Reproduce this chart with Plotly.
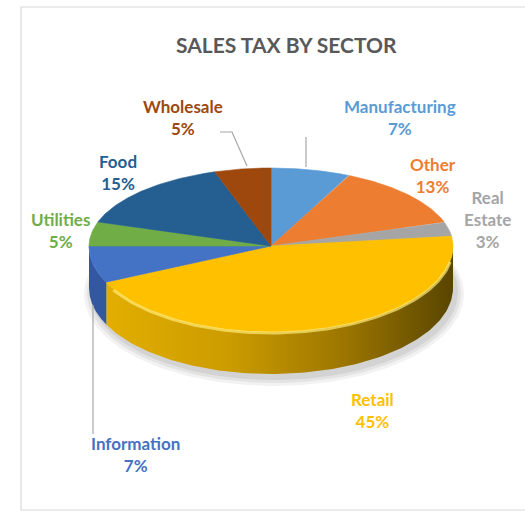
import numpy as np
import plotly.graph_objects as go

# Sales tax share by sector, clockwise from 12 o'clock
sectors = ["Manufacturing", "Other", "Real Estate", "Retail",
           "Information", "Utilities", "Food", "Wholesale"]
shares = [7, 13, 3, 45, 7, 5, 15, 5]
top_colors = ["#5B9BD5", "#ED7D31", "#A5A5A5", "#FFC000",
              "#4472C4", "#70AD47", "#255E91", "#9E480E"]
side_colors = ["#41729F", "#B55E22", "#7C7C7C", "#C89600",
               "#3358A0", "#558536", "#1B466D", "#76360A"]
label_colors = ["#5B9BD5", "#ED7D31", "#A5A5A5", "#FFC000",
                "#4472C4", "#70AD47", "#255E91", "#9E480E"]
label_text = ["Manufacturing<br>7%", "Other<br>13%", "Real<br>Estate<br>3%",
              "Retail<br>45%", "Information<br>7%", "Utilities<br>5%",
              "Food<br>15%", "Wholesale<br>5%"]

# Canvas geometry in pixels (y grows downward)
W, H = 525, 511
CX, CY = 271, 246
RX, RY_BACK, RY_FRONT = 182, 78, 86
DEPTH = 42

# Label anchor points (pixels)
label_pos = {
    "Manufacturing": (400, 117), "Other": (433, 175), "Real Estate": (487, 219),
    "Retail": (372, 410), "Information": (135, 454), "Utilities": (60, 230),
    "Food": (118, 172), "Wholesale": (183, 117),
}
# Leader lines (pixels)
leaders = [
    [(306, 137), (306, 167)],
    [(220, 132), (232, 132), (247, 166)],
    [(93, 305), (93, 434)],
]


def rim(theta_deg):
    t = np.radians(theta_deg)
    ry = np.where(np.cos(t) >= 0, RY_BACK, RY_FRONT)
    return CX + RX * np.sin(t), CY - ry * np.cos(t)


fig = go.Figure()

# soft floor shadow
for k, a in enumerate([0.05, 0.06, 0.07]):
    t = np.linspace(0, 360, 200)
    sx = 274 + (RX + 8 - 3 * k) * np.sin(np.radians(t))
    sy = CY + DEPTH + 6 - k - (RY_FRONT + 6 - 2 * k) * np.cos(np.radians(t))
    fig.add_trace(go.Scatter(x=sx, y=sy, fill="toself", mode="lines",
                             line=dict(width=0), fillcolor=f"rgba(0,0,0,{a})",
                             hoverinfo="skip", showlegend=False))

cum = np.concatenate([[0], np.cumsum(shares)]) / sum(shares) * 360.0

# side walls for the part of the rim facing the viewer (90..270 deg)
for i, name in enumerate(sectors):
    a0, a1 = max(cum[i], 90), min(cum[i + 1], 270)
    if a1 <= a0:
        continue
    t = np.linspace(a0, a1, 120)
    x, y = rim(t)
    px = np.concatenate([x, x[::-1]])
    py = np.concatenate([y, y[::-1] + DEPTH])
    kw = {}
    if name == "Retail":
        kw["fillgradient"] = dict(type="horizontal",
                                  colorscale=[[0, "#E2AE00"], [0.35, "#CC9C00"],
                                              [0.7, "#9A7400"], [1, "#584500"]])
    fig.add_trace(go.Scatter(x=px, y=py, fill="toself", mode="lines",
                             line=dict(width=0), fillcolor=side_colors[i],
                             hoverinfo="skip", showlegend=False, **kw))

# top faces
for i, name in enumerate(sectors):
    t = np.linspace(cum[i], cum[i + 1], 150)
    x, y = rim(t)
    px = np.concatenate([[CX], x, [CX]])
    py = np.concatenate([[CY], y, [CY]])
    fig.add_trace(go.Scatter(x=px, y=py, fill="toself", mode="lines",
                             line=dict(width=0.6, color=top_colors[i]),
                             fillcolor=top_colors[i], name=name,
                             hoverinfo="name", showlegend=False))

# bevel highlight along the front rim of the largest slice
t = np.linspace(max(cum[3], 100), min(cum[4], 240), 100)
hx, hy = rim(t)
fig.add_trace(go.Scatter(x=hx, y=hy + 1, mode="lines",
                         line=dict(width=3, color="rgba(255,235,120,0.7)"),
                         hoverinfo="skip", showlegend=False))

# leader lines
for pts in leaders:
    fig.add_trace(go.Scatter(x=[p[0] for p in pts], y=[p[1] for p in pts],
                             mode="lines", line=dict(width=1.2, color="#A6A6A6"),
                             hoverinfo="skip", showlegend=False))

annotations = []
for i, name in enumerate(sectors):
    lx, ly = label_pos[name]
    annotations.append(dict(x=lx, y=ly, xref="x", yref="y", text=f"<b>{label_text[i]}</b>",
                            showarrow=False, align="center",
                            font=dict(family="Lato", size=17, color=label_colors[i])))
annotations.append(dict(x=286, y=44, xref="x", yref="y", text="<b>SALES TAX BY SECTOR</b>",
                        showarrow=False,
                        font=dict(family="Lato", size=21, color="#595959")))

fig.update_layout(
    width=W, height=H, margin=dict(l=0, r=0, t=0, b=0),
    paper_bgcolor="white", plot_bgcolor="white",
    xaxis=dict(range=[0, W], visible=False, fixedrange=True),
    yaxis=dict(range=[H, 0], visible=False, fixedrange=True),
    annotations=annotations,
    shapes=[dict(type="rect", xref="x", yref="y", x0=21, y0=7, x1=532, y1=510,
                 line=dict(color="#D9D9D9", width=1.2), layer="below")],
)

fig.write_html("out.html", config={"displayModeBar": False})
